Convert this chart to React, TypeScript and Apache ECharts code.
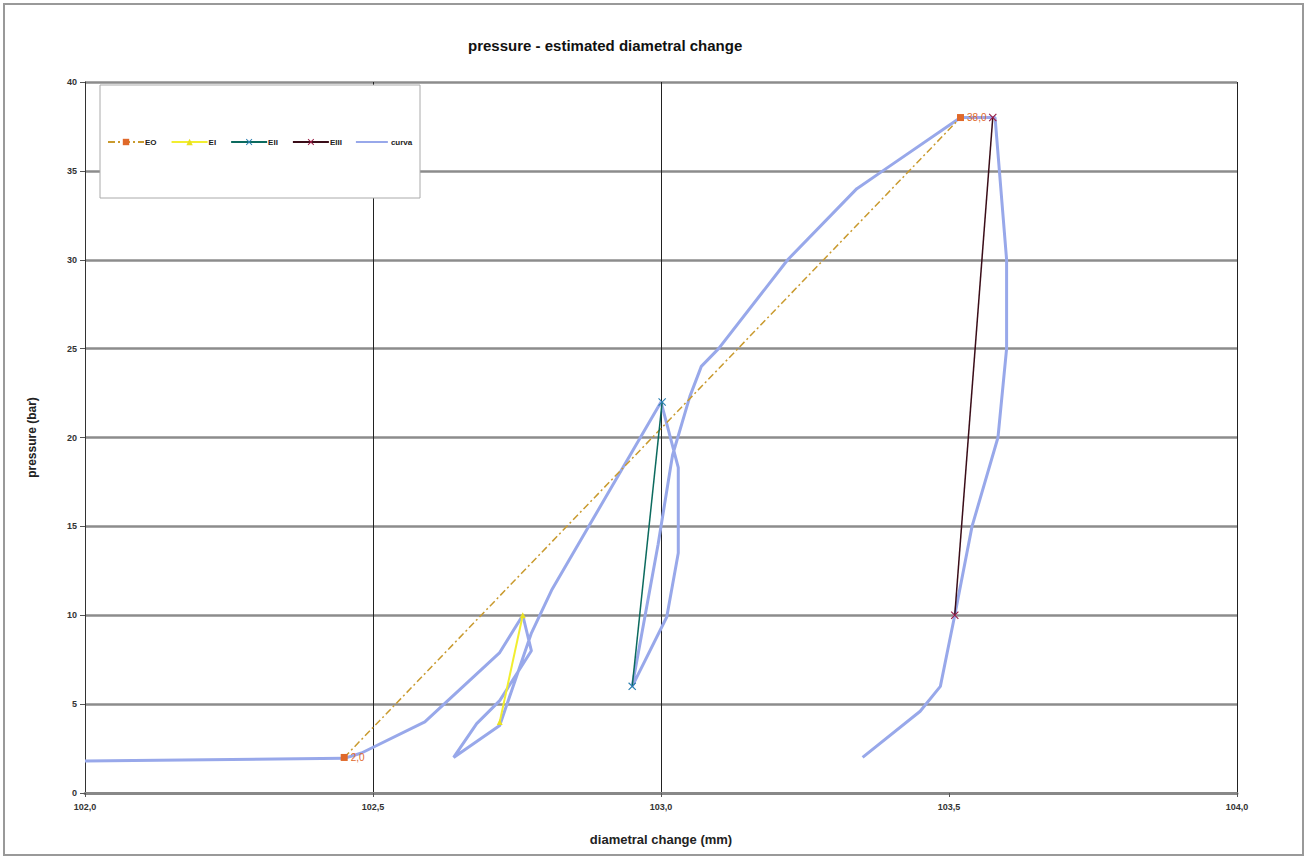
import React, { useEffect, useRef } from "react";
import * as echarts from "echarts";

const curveX = [102.0, 102.45, 102.48, 102.59, 102.72, 102.76, 102.775, 102.72, 102.68, 102.64, 102.72, 102.775, 102.81, 103.0, 103.03, 103.03, 103.01, 102.95, 102.995, 103.02, 103.05, 103.07, 103.1, 103.22, 103.34, 103.385, 103.52, 103.58, 103.6, 103.6, 103.585, 103.54, 103.51, 103.485, 103.45, 103.35];
const curveY = [1.8, 1.95, 2.25, 4.0, 7.9, 10, 8, 5.2, 3.9, 2, 3.8, 9, 11.4, 22, 18.3, 13.5, 9.9, 6, 14, 19, 22.3, 24, 25, 30, 34, 35, 38, 38, 30, 25, 20, 15, 10, 6, 4.6, 2];

const eoX = [102.45, 103.52];
const eoY = [2, 38];
const eiX = [102.72, 102.76];
const eiY = [4, 10];
const eiiX = [102.95, 103.002];
const eiiY = [6, 22];
const eiiiX = [103.576, 103.51];
const eiiiY = [38, 10];

const xTicks = [102.0, 102.5, 103.0, 103.5, 104.0];

const pairs = (xs: number[], ys: number[]) => xs.map((x, i) => [x, ys[i]]);
const X_SYMBOL = "path://M0,1L1,0L5,4L9,0L10,1L6,5L10,9L9,10L5,6L1,10L0,9L4,5Z";
const LINE_ICON = "path://M0,0L0.01,0L0.01,0.01ZM0,3.8H40V6.2H0ZM0,10L0.01,10L0.01,10.01Z";
const fmt = (v: number) => v.toFixed(1).replace(".", ",");
const FONT = "Liberation Sans";

export default function App() {
  const ref = useRef<HTMLDivElement>(null);
  useEffect(() => {
    const chart = echarts.init(ref.current!, null, { renderer: "svg" });
    chart.setOption({
      animation: false,
      backgroundColor: "#ffffff",
      textStyle: { fontFamily: FONT },
      title: {
        text: "pressure - estimated diametral change",
        left: 463,
        top: 33,
        textStyle: { fontSize: 15, fontWeight: "bold", color: "#111", fontFamily: FONT },
      },
      graphic: [
        {
          type: "rect",
          z: 1,
          shape: { x: 4, y: 4, width: 1299, height: 851 },
          style: { fill: "none", stroke: "#999", lineWidth: 2 },
          silent: true,
        },
        {
          type: "rect",
          z: 100,
          shape: { x: 100, y: 85, width: 320, height: 113 },
          style: { fill: "#ffffff", stroke: "#aaa", lineWidth: 1 },
          silent: true,
        },
      ],
      legend: {
        z: 101,
        left: 102,
        top: 133,
        itemWidth: 36,
        itemHeight: 8,
        itemGap: 14,
        textStyle: { fontSize: 8, fontWeight: "bold", color: "#222", fontFamily: FONT, padding: [0, 0, 0, -4] },
        data: ["EO", "EI", "EII", "EIII", { name: "curva", icon: LINE_ICON }],
      },
      grid: { left: 85, right: 71, top: 82, bottom: 66 },
      xAxis: {
        type: "value",
        min: 102,
        max: 104,
        interval: 0.5,
        name: "diametral change (mm)",
        nameLocation: "middle",
        nameGap: 40,
        nameTextStyle: { fontSize: 13, fontWeight: "bold", color: "#222", fontFamily: FONT },
        axisLine: { show: true, lineStyle: { color: "#888", width: 3 } },
        axisTick: { show: true, length: 4, lineStyle: { color: "#555" } },
        axisLabel: { fontSize: 9, fontWeight: "bold", color: "#333", margin: 9, formatter: (v: number) => (xTicks.includes(v) ? fmt(v) : "") },
        splitLine: { show: true, lineStyle: { color: ["#222", "#222", "#222", "rgba(0,0,0,0)", "#222"], width: 1 } },
      },
      yAxis: {
        type: "value",
        min: 0,
        max: 40,
        interval: 5,
        name: "pressure (bar)",
        nameLocation: "middle",
        nameGap: 47,
        nameRotate: 90,
        nameTextStyle: { fontSize: 12, fontWeight: "bold", color: "#222", fontFamily: FONT },
        axisLine: { show: true, lineStyle: { color: "#333", width: 1 } },
        axisTick: { show: true, length: 5, lineStyle: { color: "#555" } },
        axisLabel: { fontSize: 9, fontWeight: "bold", color: "#333", margin: 8 },
        splitLine: { show: true, lineStyle: { color: "#8c8c8c", width: 2.5 } },
      },
      series: [
        {
          name: "EO",
          type: "line",
          data: pairs(eoX, eoY),
          symbol: "rect",
          symbolSize: 7,
          z: 3,
          lineStyle: { color: "#c99a2e", width: 1.5, type: [7, 3, 2, 3] },
          itemStyle: { color: "#e0692a" },
          label: {
            show: true,
            position: "right",
            distance: 3,
            fontSize: 10,
            color: "#e0692a",
            formatter: (p: any) => fmt(p.value[1]),
          },
        },
        {
          name: "EI",
          type: "line",
          data: pairs(eiX, eiY),
          symbol: "triangle",
          symbolSize: 6,
          z: 4,
          lineStyle: { color: "#f2ee30", width: 2 },
          itemStyle: { color: "#e8e020" },
        },
        {
          name: "EII",
          type: "line",
          data: pairs(eiiX, eiiY),
          symbol: X_SYMBOL,
          symbolSize: 8,
          z: 4,
          lineStyle: { color: "#0b6a5e", width: 1.5 },
          itemStyle: { color: "#2a7fb0" },
        },
        {
          name: "EIII",
          type: "line",
          data: pairs(eiiiX, eiiiY),
          symbol: X_SYMBOL,
          symbolSize: 8,
          z: 4,
          lineStyle: { color: "#3a0d18", width: 1.5 },
          itemStyle: { color: "#9b1d45" },
        },
        {
          name: "curva",
          type: "line",
          data: pairs(curveX, curveY),
          symbol: "none",
          z: 2,
          lineStyle: { color: "#98a8ea", width: 3 },
          itemStyle: { color: "#98a8ea" },
        },
      ],
    });
    return () => chart.dispose();
  }, []);
  return (
    <div
      ref={ref}
      style={{ position: "fixed", left: 0, top: 0, width: 1308, height: 859, background: "#fff" }}
    />
  );
}
